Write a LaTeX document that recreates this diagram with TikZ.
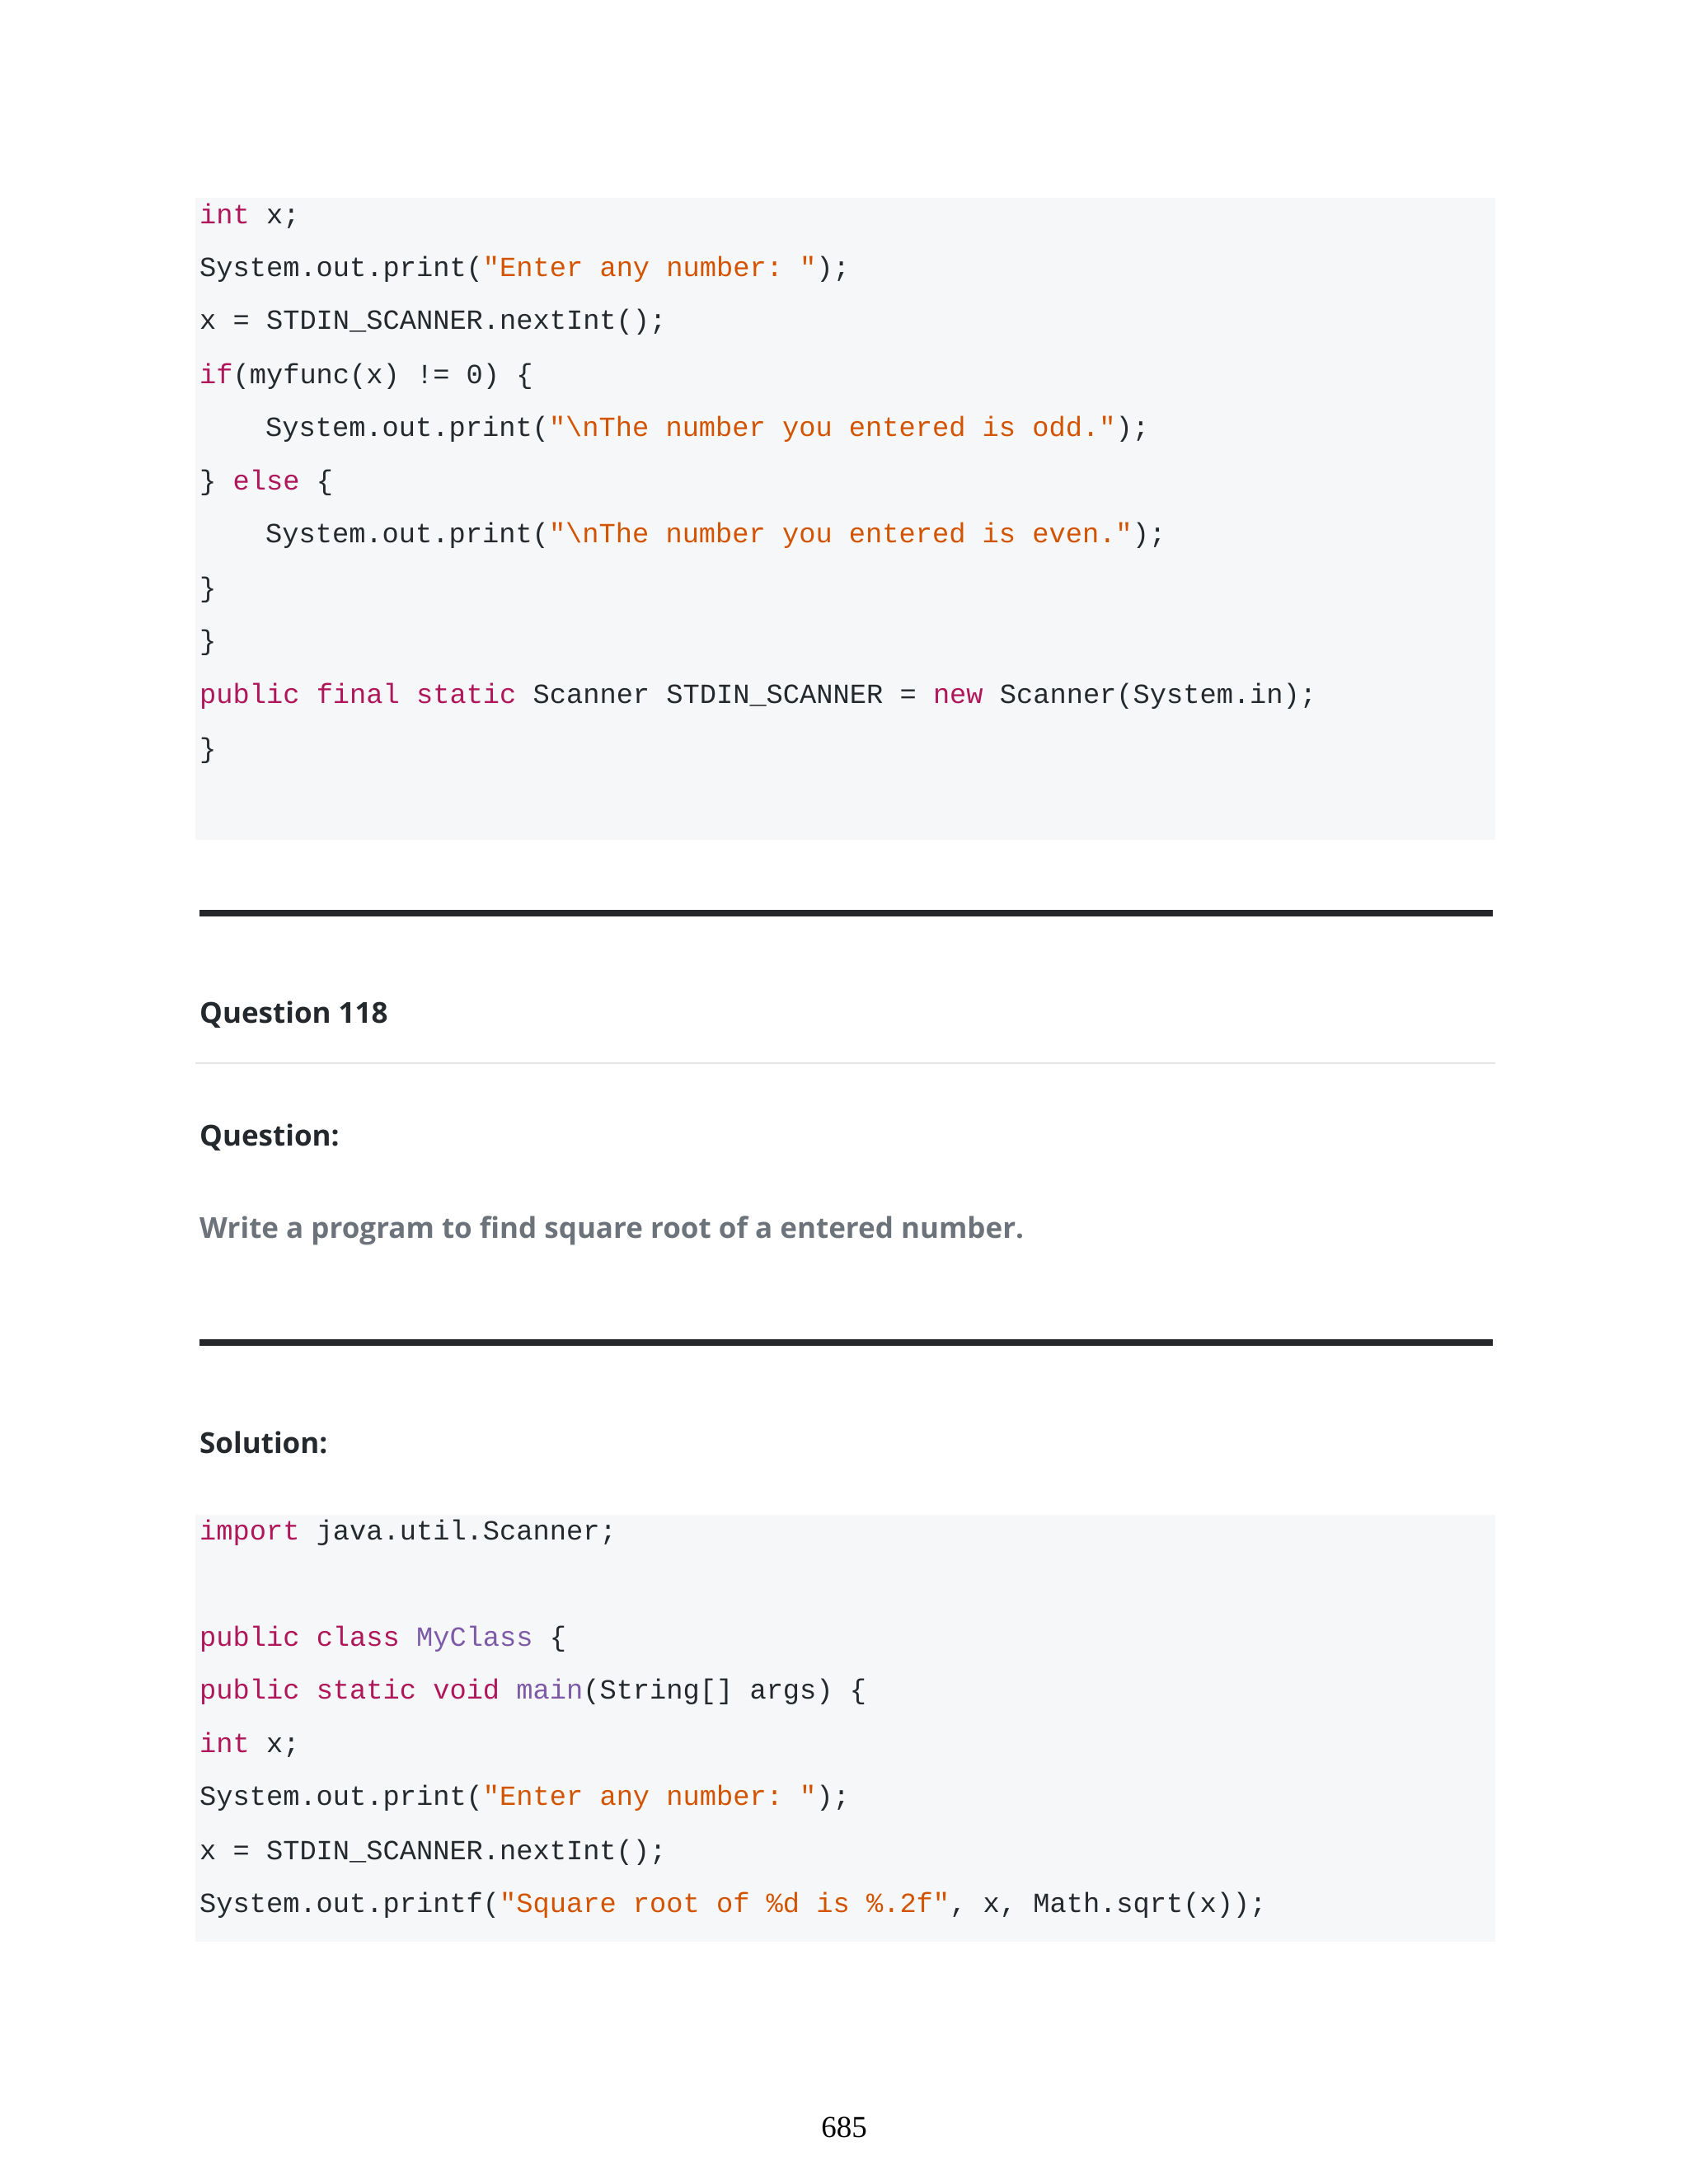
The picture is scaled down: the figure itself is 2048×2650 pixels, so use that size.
\documentclass[tikz,border=0pt]{standalone}
\usepackage{fontspec}
\setmainfont{Liberation Serif}
\setsansfont{Open Sans}
\setmonofont{Liberation Mono}
\definecolor{codebg}{HTML}{F6F7F9}
\definecolor{kwc}{HTML}{B0175A}
\definecolor{stc}{HTML}{D35400}
\definecolor{clc}{HTML}{7D5BA6}
\definecolor{txc}{HTML}{24292E}
\definecolor{rulec}{HTML}{25272B}
\definecolor{grayt}{HTML}{6C737A}
\newcommand{\kw}[1]{\textcolor{kwc}{#1}}
\newcommand{\stt}[1]{\textcolor{stc}{#1}}
\newcommand{\clz}[1]{\textcolor{clc}{#1}}
\tikzset{x=1pt,y=1pt,
 code/.style={anchor=west,inner sep=0pt,text=txc,font=\fontsize{33.7}{34}\selectfont\ttfamily},
 head/.style={anchor=west,inner sep=0pt,text=txc,font=\fontsize{35}{35}\selectfont\sffamily\bfseries},
}
\begin{document}
\begin{tikzpicture}
\useasboundingbox (0,0) rectangle (2048,-2650);
\fill[codebg] (237,-240) rectangle (1814,-1019);
\node[code] (a1) at (242,-262) {\kw{int} x;};
\node[code] (a2) at (242,-327) {System.out.print(\stt{"Enter any number: "});};
\node[code] (a3) at (242,-391) {x = STDIN\_SCANNER.nextInt();};
\node[code] (a4) at (242,-457) {\kw{if}(myfunc(x) != 0) \{};
\node[code] (a5) at (322,-521) {System.out.print(\stt{"\textbackslash nThe number you entered is odd."});};
\node[code] (a6) at (242,-586) {\} \kw{else} \{};
\node[code] (a7) at (322,-650) {System.out.print(\stt{"\textbackslash nThe number you entered is even."});};
\node[code] (a8) at (242,-716) {\}};
\node[code] (a9) at (242,-780) {\}};
\node[code] (a10) at (242,-845) {\kw{public} \kw{final} \kw{static} Scanner STDIN\_SCANNER = \kw{new} Scanner(System.in);};
\node[code] (a11) at (242,-911) {\}};
\fill[rulec] (242,-1104) rectangle (1811,-1112);
\node[head] (q118) at (242,-1231) {Question 118};
\fill[black!10] (237,-1289) rectangle (1814,-1291);
\node[head] (qq) at (242,-1380) {Question:};
\node[head,text=grayt] (qt) at (242,-1493) {Write a program to find square root of a entered number.};
\fill[rulec] (242,-1625) rectangle (1811,-1633);
\node[head] (sol) at (242,-1750) {Solution:};
\fill[codebg] (237,-1838) rectangle (1814,-2356);
\node[code] (b1) at (242,-1860) {\kw{import} java.util.Scanner;};
\node[code] (b2) at (242,-1989) {\kw{public} \kw{class} \clz{MyClass} \{};
\node[code] (b3) at (242,-2053) {\kw{public} \kw{static} \kw{void} \clz{main}(String[] args) \{};
\node[code] (b4) at (242,-2117) {\kw{int} x;};
\node[code] (b5) at (242,-2182) {System.out.print(\stt{"Enter any number: "});};
\node[code] (b6) at (242,-2248) {x = STDIN\_SCANNER.nextInt();};
\node[code] (b7) at (242,-2312) {System.out.printf(\stt{"Square root of \%d is \%.2f"}, x, Math.sqrt(x));};
\node[font=\fontsize{37}{37}\selectfont,inner sep=0pt] (pg) at (1024,-2581) {685};
\end{tikzpicture}
\end{document}
